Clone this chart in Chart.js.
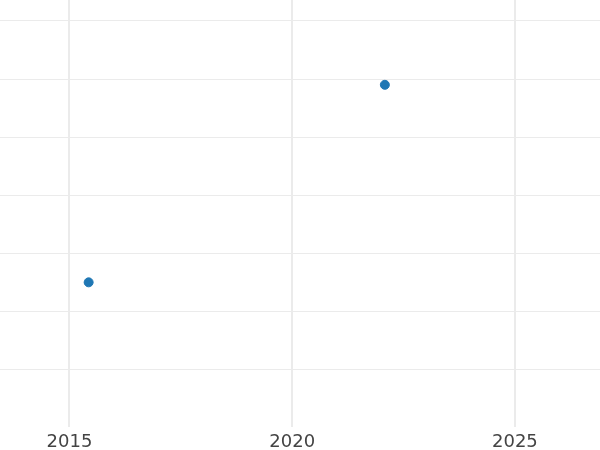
<!DOCTYPE html>
<html>
<head>
<meta charset="utf-8">
<script src="https://cdn.jsdelivr.net/npm/chart.js@4"></script>
<style>
  html, body { margin: 0; padding: 0; background: #fff; }
  #wrap { width: 600px; height: 450px; }
</style>
</head>
<body>
<div id="wrap"><canvas id="chart"></canvas></div>
<script>
const xValues = [2015.43, 2022.08];
const yValues = [1.5, 4.9];
const xTicks = [2015, 2020, 2025];

const points = xValues.map((x, i) => ({ x: x, y: yValues[i] }));

const gridColor = "#ebebeb";

new Chart(document.getElementById("chart"), {
  type: "scatter",
  data: {
    datasets: [
      {
        data: points,
        backgroundColor: "#1f77b4",
        borderColor: "#1f77b4",
        pointRadius: 4.5,
        pointHoverRadius: 4.5,
      },
    ],
  },
  options: {
    responsive: true,
    maintainAspectRatio: false,
    animation: false,
    layout: { padding: 0, autoPadding: false },
    plugins: {
      legend: { display: false },
      tooltip: { enabled: false },
    },
    scales: {
      x: {
        type: "linear",
        min: 2013.44,
        max: 2026.91,
        border: { display: false },
        grid: { color: gridColor, lineWidth: 2, drawTicks: false },
        afterBuildTicks: (axis) => {
          axis.ticks = xTicks.map((v) => ({ value: v }));
        },
        afterFit: (axis) => {
          axis.height = 23;
        },
        ticks: {
          padding: 5,
          color: "#444",
          font: { family: "DejaVu Sans", size: 18 },
          callback: (v) => String(v),
        },
      },
      y: {
        min: -0.99,
        max: 6.36,
        border: { display: false },
        grid: { color: gridColor, lineWidth: 1, drawTicks: false },
        ticks: { display: false, stepSize: 1, includeBounds: false },
      },
    },
  },
});
</script>
</body>
</html>
